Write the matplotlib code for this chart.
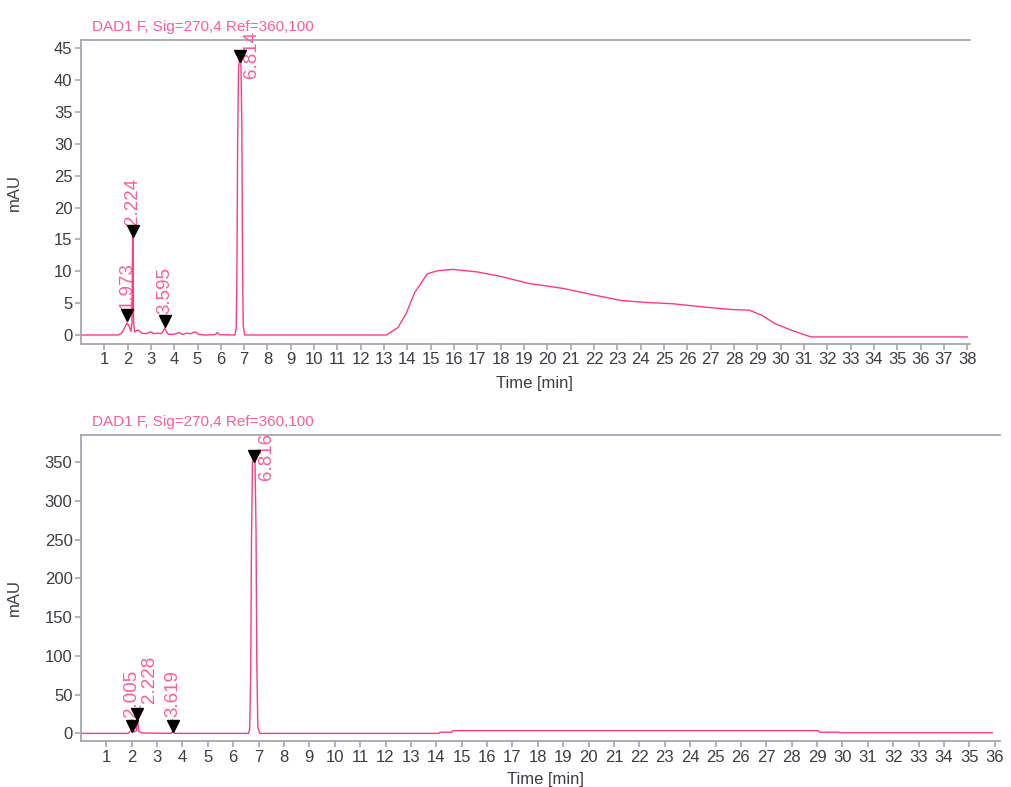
import matplotlib
matplotlib.use("Agg")
import matplotlib.pyplot as plt

plt.rcParams['font.family'] = ['Liberation Sans', 'DejaVu Sans']

TITLE = "DAD1 F, Sig=270,4 Ref=360,100"

# upper run: trace (time in min, signal in mAU)
top_time = [0.0, 1.60, 1.75, 1.90, 1.973, 2.05, 2.15, 2.19, 2.21, 2.224, 2.24, 2.26, 2.30,
            2.45, 2.60, 2.80, 3.00, 3.15, 3.30, 3.45, 3.55, 3.595, 3.65, 3.75, 4.00, 4.20,
            4.35, 4.55, 4.70, 4.90, 5.05, 5.30, 5.75, 5.85, 5.95, 6.60, 6.66, 6.69, 6.72,
            6.76, 6.814, 6.86, 6.90, 6.93, 6.96, 7.02, 13.10, 13.60, 13.95, 14.30, 14.85,
            15.30, 15.95, 17.00, 18.00, 19.20, 20.70, 22.10, 23.20, 24.30, 25.40, 26.70,
            27.90, 28.65, 29.20, 29.75, 30.50, 31.30, 38.00]
top_signal = [0.0, 0.0, 0.3, 1.3, 1.9, 1.5, 0.6, 2.0, 12.0, 16.3, 12.0, 2.0, 0.5,
              0.8, 0.3, 0.2, 0.5, 0.2, 0.3, 0.2, 0.8, 1.1, 0.6, 0.1, 0.1, 0.4,
              0.1, 0.3, 0.2, 0.5, 0.1, 0.0, 0.05, 0.4, 0.05, 0.0, 1.0, 10.0, 30.0,
              42.0, 43.8, 43.0, 33.0, 12.0, 1.5, 0.0, 0.0, 1.2, 3.4, 6.6, 9.6,
              10.1, 10.3, 9.9, 9.2, 8.1, 7.3, 6.2, 5.4, 5.1, 4.9, 4.4,
              4.0, 3.9, 3.1, 1.8, 0.7, -0.3, -0.3]
top_peaks = [1.973, 2.224, 3.595, 6.814]
top_marks = [3.2, 16.3, 2.2, 43.8]

# lower run
bot_time = [0.0, 1.85, 1.95, 2.005, 2.10, 2.18, 2.228, 2.28, 2.40, 3.55, 3.619, 3.70,
            6.60, 6.65, 6.69, 6.72, 6.76, 6.816, 6.86, 6.90, 6.93, 6.97, 7.05,
            14.10, 14.15, 14.60, 14.65, 29.05, 29.10, 29.85, 29.90, 35.90]
bot_signal = [0.0, 0.0, 3.0, 5.0, 2.0, 3.0, 20.0, 3.0, 0.5, 0.0, 3.0, 0.0,
              0.0, 5.0, 80.0, 250.0, 350.0, 358.0, 350.0, 260.0, 90.0, 8.0, 0.0,
              0.0, 1.5, 1.5, 3.5, 3.5, 1.5, 1.5, 0.8, 0.8]
bot_peaks = [2.005, 2.228, 3.619, 6.816]
bot_marks = [10.0, 25.0, 10.0, 358.0]

PINK = '#ff3a80'
TXT_PINK = '#ff5c95'
GREY = '#a3a7b2'
DARK = '#3c3c44'


def draw_panel(ax, t, s, peaks, marks, label_offsets, xmax, ylim, yticks, nticks):
    ax.plot(t, s, color=PINK, lw=1.0, zorder=2)
    ax.plot(peaks, marks, 'v', color='black', ms=8, zorder=4, clip_on=False)
    for p, m, (dx, dy) in zip(peaks, marks, label_offsets):
        ax.annotate(f"{p:.3f}", xy=(p, m), xytext=(dx, dy), textcoords='offset pixels',
                    rotation=90, ha='center', va='bottom', fontsize=13.5, color=TXT_PINK,
                    arrowprops=dict(arrowstyle='-', color=TXT_PINK, lw=0.8,
                                    shrinkA=0, shrinkB=0),
                    annotation_clip=False, zorder=3)
    ax.set_xlim(0, xmax)
    ax.set_ylim(*ylim)
    ax.set_xticks(range(1, nticks + 1))
    ax.set_yticks(yticks)
    for side in ['left', 'bottom', 'top']:
        ax.spines[side].set_color(GREY)
        ax.spines[side].set_linewidth(1.3)
    ax.spines['right'].set_visible(False)
    ax.tick_params(axis='both', colors=GREY, labelcolor=DARK, labelsize=12,
                   length=4, width=1.2, pad=2)
    ax.set_xlabel("Time [min]", fontsize=12, color=DARK)
    ax.set_ylabel("mAU", fontsize=12, color=DARK)
    ax.annotate(TITLE, xy=(0, 1), xycoords='axes fraction', xytext=(11, 6),
                textcoords='offset pixels', ha='left', va='bottom',
                fontsize=11, color=TXT_PINK)


fig = plt.figure(figsize=(10.11, 7.87), dpi=100)
ax1 = fig.add_axes([0.080, 0.563, 0.879, 0.386])
ax2 = fig.add_axes([0.080, 0.058, 0.909, 0.389])

draw_panel(ax1, top_time, top_signal, top_peaks, top_marks,
           [(0, 6), (0, 6), (0, 7), (12, -22)],
           38.1, (-1.4, 46.3), range(0, 46, 5), 38)
draw_panel(ax2, bot_time, bot_signal, bot_peaks, bot_marks,
           [(0, 9), (12, 11), (0, 9), (13, -24)],
           36.2, (-10.3, 385), range(0, 351, 50), 36)

ax1.xaxis.set_label_coords(0.51, -0.105)
ax2.xaxis.set_label_coords(0.505, -0.1)
ax1.yaxis.set_label_coords(-0.066, 0.5)
ax2.yaxis.set_label_coords(-0.064, 0.47)

fig.savefig("out.png", dpi=100)
